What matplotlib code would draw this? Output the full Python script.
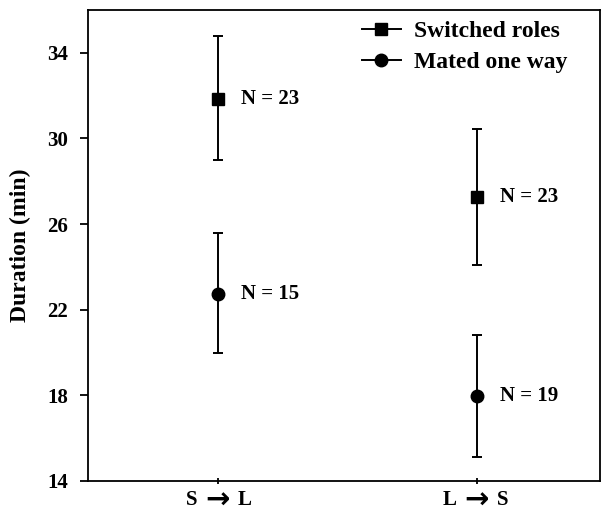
import matplotlib
matplotlib.use('Agg')
import matplotlib.pyplot as plt
from matplotlib.lines import Line2D

plt.rcParams['font.family'] = ['Liberation Serif', 'DejaVu Serif']
plt.rcParams['font.weight'] = 'bold'

# data
categories = [('S', 'L'), ('L', 'S')]
x = [1, 2]

switched_mean = [31.85, 27.25]
switched_lo = [29.0, 24.1]
switched_hi = [34.8, 30.45]
switched_n = [23, 23]

mated_mean = [22.75, 17.95]
mated_lo = [20.0, 15.1]
mated_hi = [25.6, 20.8]
mated_n = [15, 19]

fig = plt.figure(figsize=(6.02, 5.13), dpi=100)
ax = fig.add_axes([88 / 602, 32 / 513, 512 / 602, 471 / 513])

def err(mean, lo, hi):
    return [[m - l for m, l in zip(mean, lo)], [h - m for m, h in zip(mean, hi)]]

ax.errorbar(x, switched_mean, yerr=err(switched_mean, switched_lo, switched_hi),
            fmt='s', color='black', ms=9, capsize=3.7, elinewidth=1.4, capthick=1.4)
ax.errorbar(x, mated_mean, yerr=err(mated_mean, mated_lo, mated_hi),
            fmt='o', color='black', ms=9, capsize=3.7, elinewidth=1.4, capthick=1.4)

for xi, m, n in zip(x, switched_mean, switched_n):
    ax.annotate('N = %d' % n, (xi, m), xytext=(17, 0), textcoords='offset points',
                va='center', ha='left', fontsize=15, fontweight='bold')
for xi, m, n in zip(x, mated_mean, mated_n):
    ax.annotate('N = %d' % n, (xi, m), xytext=(17, 0), textcoords='offset points',
                va='center', ha='left', fontsize=15, fontweight='bold')

ax.set_xlim(0.5, 2.475)
ax.set_ylim(14, 36)
ax.set_yticks([14, 18, 22, 26, 30, 34])
ax.set_xticks(x)
ax.set_xticklabels([''] * len(x))
ax.tick_params(axis='both', width=1.3)
ax.tick_params(axis='y', labelsize=15, length=5.8, direction='out', pad=8.5)
ax.tick_params(axis='x', length=4, direction='inout')
for s in ax.spines.values():
    s.set_linewidth(1.3)

# category labels: letter, arrow, letter
xt = ax.get_xaxis_transform()
for xi, (a, b) in zip(x, categories):
    ax.annotate(a, (xi, 0), xycoords=xt, xytext=(-14.5, -14), textcoords='offset points',
                ha='right', va='center', fontsize=15, fontweight='bold')
    ax.annotate('\u2192', (xi, 0), xycoords=xt, xytext=(0, -14), textcoords='offset points',
                ha='center', va='center', fontsize=21, fontweight='bold',
                family='DejaVu Sans')
    ax.annotate(b, (xi, 0), xycoords=xt, xytext=(14.5, -14), textcoords='offset points',
                ha='left', va='center', fontsize=15, fontweight='bold')

ax.set_ylabel('Duration (min)', fontsize=17, fontweight='bold')
ax.yaxis.set_label_coords(-0.112, 0.5)

handles = [Line2D([], [], color='black', marker='s', ms=9, lw=1.4),
           Line2D([], [], color='black', marker='o', ms=9, lw=1.4)]
ax.legend(handles, ['Switched roles', 'Mated one way'], loc='upper right',
          frameon=False, fontsize=17, handlelength=1.65, handletextpad=0.55,
          borderpad=0, borderaxespad=0, labelspacing=0.42,
          bbox_to_anchor=(0.936, 0.978))

fig.savefig('out.png', dpi=100)
